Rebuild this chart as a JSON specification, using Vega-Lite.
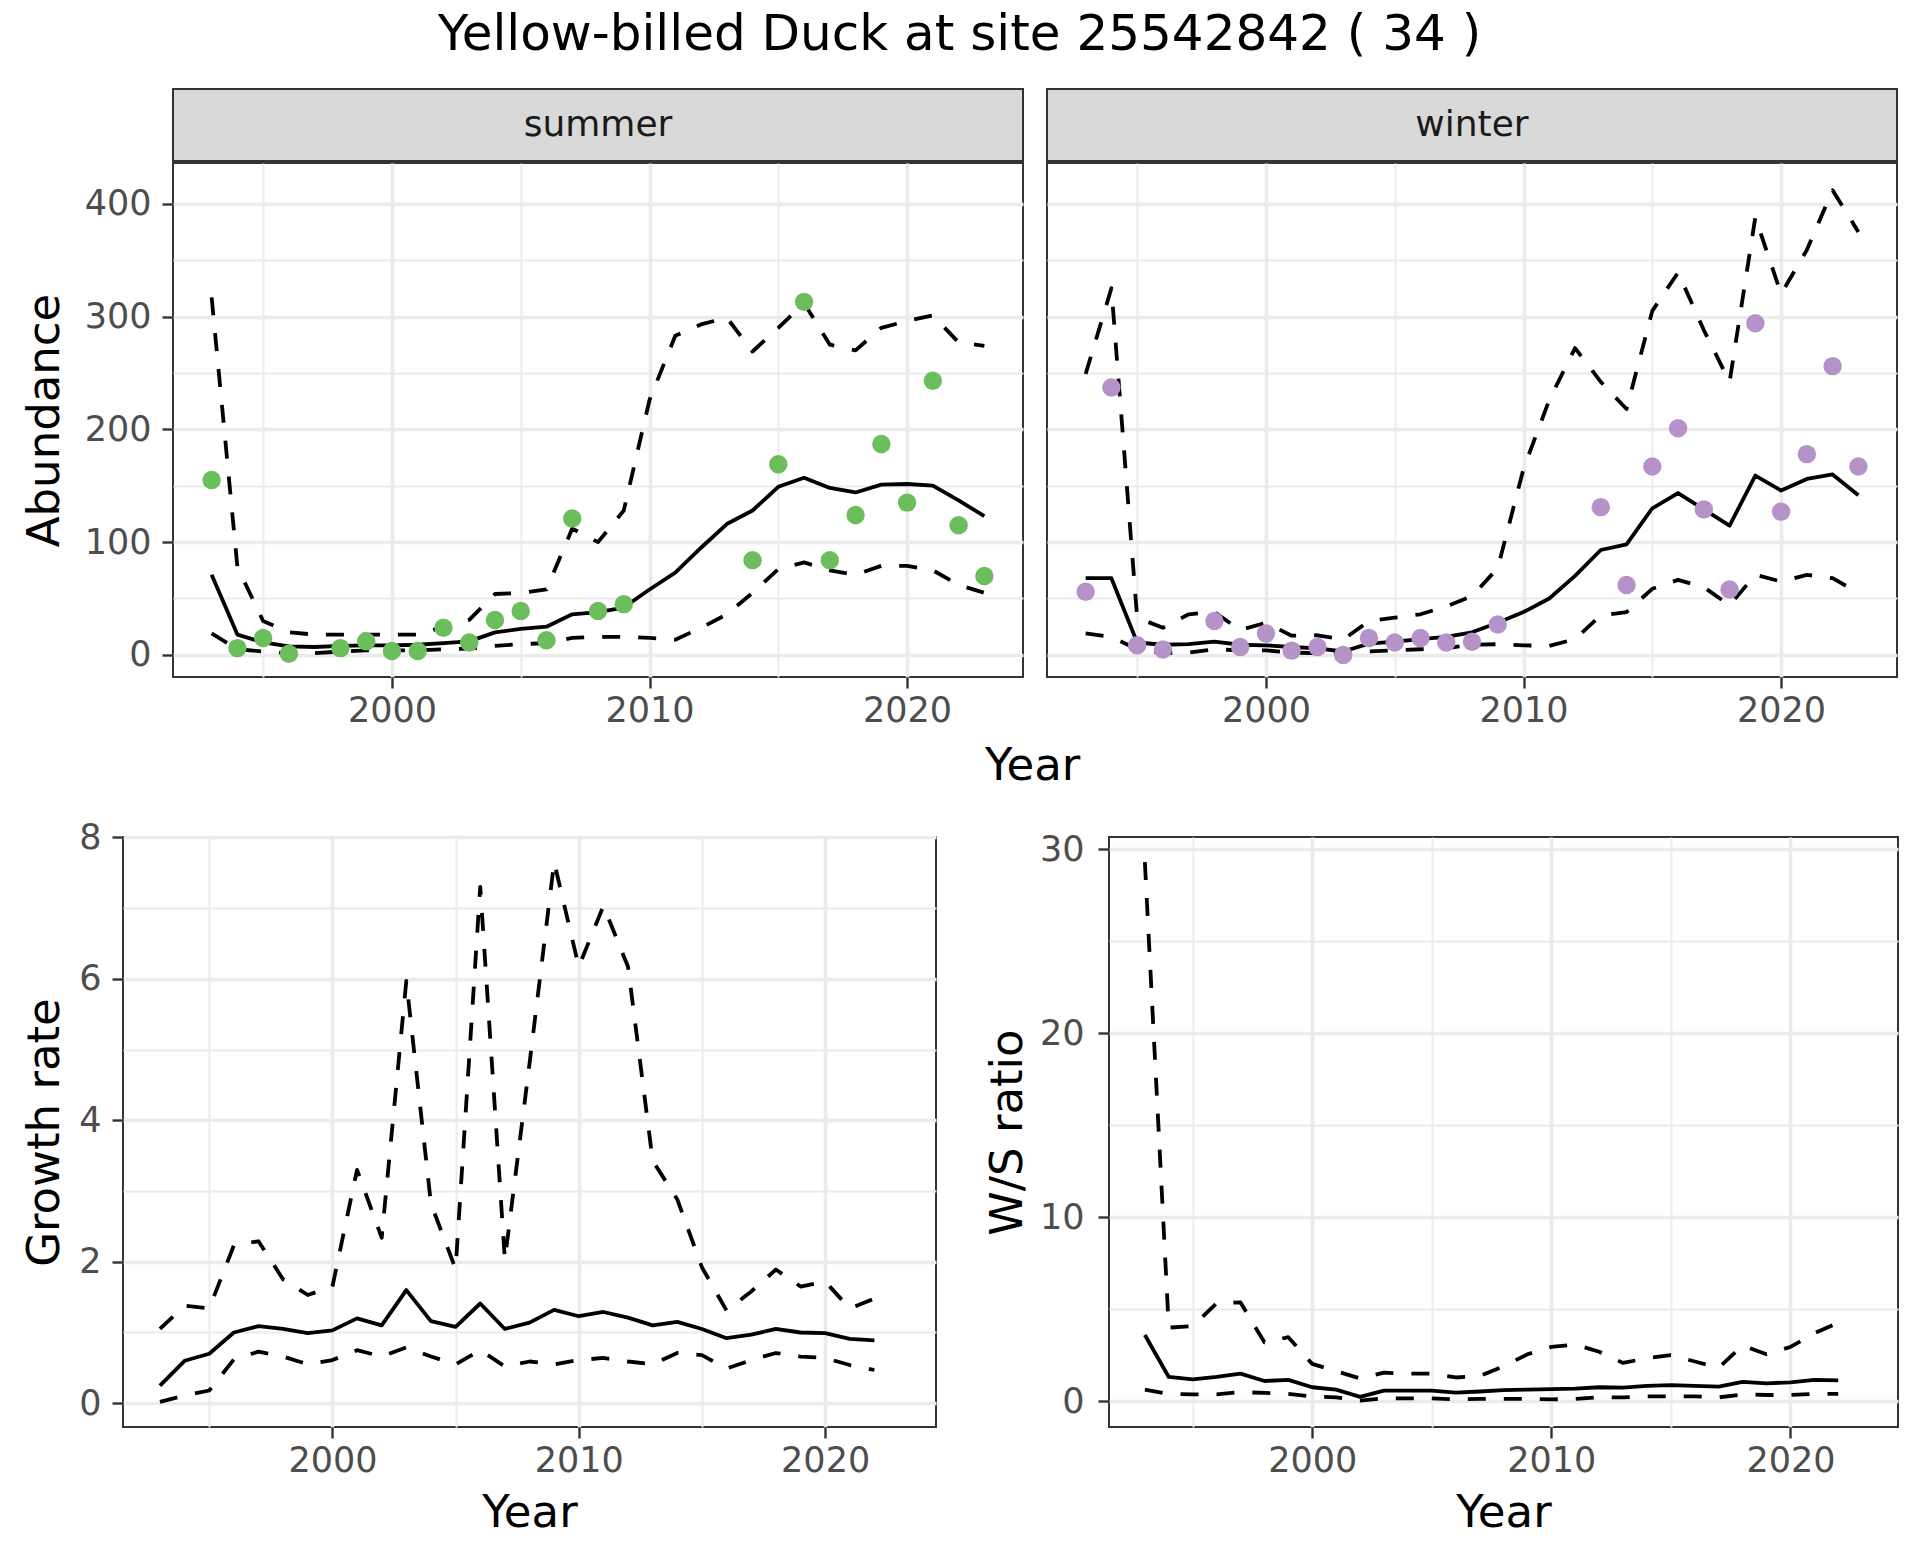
{
  "$schema": "https://vega.github.io/schema/vega-lite/v6.json",
  "background": "white",
  "padding": {"left": 20, "top": 10, "right": 10, "bottom": 10},
  "title": {"text": "Yellow-billed Duck at site 25542842 ( 34 )", "fontSize": 50, "font": "DejaVu Sans", "fontWeight": "normal", "color": "#000000", "anchor": "middle", "offset": 28},
  "datasets": {
    "summer": [
      {"year": 1993, "obs": 155, "mean": 71, "lo": 19, "hi": 317},
      {"year": 1994, "obs": 6, "mean": 18, "lo": 5, "hi": 78},
      {"year": 1995, "obs": 15, "mean": 11, "lo": 3, "hi": 30},
      {"year": 1996, "obs": 1, "mean": 7.5, "lo": 1.5, "hi": 20},
      {"year": 1997, "obs": null, "mean": 7, "lo": 1.5, "hi": 18},
      {"year": 1998, "obs": 6, "mean": 8, "lo": 3, "hi": 18},
      {"year": 1999, "obs": 12, "mean": 8.5, "lo": 4, "hi": 18},
      {"year": 2000, "obs": 3.5, "mean": 8.5, "lo": 4, "hi": 18},
      {"year": 2001, "obs": 3.5, "mean": 9, "lo": 4, "hi": 18},
      {"year": 2002, "obs": 24, "mean": 10.5, "lo": 5, "hi": 25},
      {"year": 2003, "obs": 11, "mean": 12, "lo": 5.5, "hi": 31},
      {"year": 2004, "obs": 31, "mean": 20, "lo": 8, "hi": 54},
      {"year": 2005, "obs": 39, "mean": 23, "lo": 9.5, "hi": 55},
      {"year": 2006, "obs": 13, "mean": 25, "lo": 10.5, "hi": 58},
      {"year": 2007, "obs": 121, "mean": 36, "lo": 15, "hi": 112},
      {"year": 2008, "obs": 39, "mean": 38, "lo": 16, "hi": 100},
      {"year": 2009, "obs": 45, "mean": 42, "lo": 16, "hi": 128},
      {"year": 2010, "obs": null, "mean": 58, "lo": 15, "hi": 226},
      {"year": 2011, "obs": null, "mean": 73, "lo": 13.5, "hi": 283},
      {"year": 2012, "obs": null, "mean": 95, "lo": 24, "hi": 293},
      {"year": 2013, "obs": null, "mean": 116, "lo": 36, "hi": 299},
      {"year": 2014, "obs": 84, "mean": 128, "lo": 55, "hi": 269},
      {"year": 2015, "obs": 169, "mean": 149, "lo": 76, "hi": 290},
      {"year": 2016, "obs": 313, "mean": 157, "lo": 82, "hi": 312},
      {"year": 2017, "obs": 84, "mean": 148, "lo": 75, "hi": 275},
      {"year": 2018, "obs": 124, "mean": 144, "lo": 71, "hi": 270},
      {"year": 2019, "obs": 187, "mean": 151, "lo": 79, "hi": 290},
      {"year": 2020, "obs": 135, "mean": 151.5, "lo": 79, "hi": 296},
      {"year": 2021, "obs": 243, "mean": 150, "lo": 75, "hi": 301},
      {"year": 2022, "obs": 115, "mean": 137, "lo": 62, "hi": 277},
      {"year": 2023, "obs": 70, "mean": 123, "lo": 55, "hi": 274}
    ],
    "winter": [
      {"year": 1993, "obs": 56, "mean": 68, "lo": 19, "hi": 249},
      {"year": 1994, "obs": 237, "mean": 68, "lo": 16, "hi": 325},
      {"year": 1995, "obs": 8.5, "mean": 11, "lo": 5, "hi": 33},
      {"year": 1996, "obs": 4.7, "mean": 9, "lo": 1.6, "hi": 24},
      {"year": 1997, "obs": null, "mean": 9.5, "lo": 2, "hi": 36},
      {"year": 1998, "obs": 30, "mean": 11.7, "lo": 5, "hi": 38},
      {"year": 1999, "obs": 7, "mean": 9, "lo": 4, "hi": 22},
      {"year": 2000, "obs": 19, "mean": 8.5, "lo": 4, "hi": 28.5},
      {"year": 2001, "obs": 3.8, "mean": 7, "lo": 2, "hi": 17},
      {"year": 2002, "obs": 7, "mean": 5.7, "lo": 1.6, "hi": 17.4},
      {"year": 2003, "obs": 0, "mean": 3, "lo": 0.6, "hi": 13.6},
      {"year": 2004, "obs": 15, "mean": 10, "lo": 3, "hi": 30},
      {"year": 2005, "obs": 11, "mean": 11.7, "lo": 4, "hi": 33},
      {"year": 2006, "obs": 15, "mean": 14, "lo": 5, "hi": 36},
      {"year": 2007, "obs": 11, "mean": 16, "lo": 6, "hi": 43},
      {"year": 2008, "obs": 11.7, "mean": 20, "lo": 9, "hi": 52},
      {"year": 2009, "obs": 27, "mean": 28.5, "lo": 9.5, "hi": 77},
      {"year": 2010, "obs": null, "mean": 38, "lo": 8.5, "hi": 165},
      {"year": 2011, "obs": null, "mean": 50, "lo": 8, "hi": 226},
      {"year": 2012, "obs": null, "mean": 70, "lo": 14, "hi": 272},
      {"year": 2013, "obs": 131, "mean": 93, "lo": 35, "hi": 242},
      {"year": 2014, "obs": 62, "mean": 98, "lo": 38, "hi": 218},
      {"year": 2015, "obs": 167, "mean": 130, "lo": 58.6, "hi": 305},
      {"year": 2016, "obs": 201, "mean": 143.5, "lo": 66.5, "hi": 339},
      {"year": 2017, "obs": 129, "mean": 129, "lo": 60, "hi": 288},
      {"year": 2018, "obs": 58, "mean": 114.6, "lo": 44, "hi": 242},
      {"year": 2019, "obs": 294, "mean": 159, "lo": 71, "hi": 388},
      {"year": 2020, "obs": 127, "mean": 145.7, "lo": 65, "hi": 320},
      {"year": 2021, "obs": 178, "mean": 156, "lo": 71, "hi": 359},
      {"year": 2022, "obs": 256, "mean": 160, "lo": 68, "hi": 412},
      {"year": 2023, "obs": 167, "mean": 141.6, "lo": 55, "hi": 375}
    ],
    "growth": [
      {"year": 1993, "mean": 0.25, "lo": 0.02, "hi": 1.05},
      {"year": 1994, "mean": 0.6, "lo": 0.11, "hi": 1.38},
      {"year": 1995, "mean": 0.7, "lo": 0.18, "hi": 1.34},
      {"year": 1996, "mean": 1.0, "lo": 0.62, "hi": 2.23},
      {"year": 1997, "mean": 1.09, "lo": 0.73, "hi": 2.29},
      {"year": 1998, "mean": 1.05, "lo": 0.66, "hi": 1.75},
      {"year": 1999, "mean": 0.99, "lo": 0.55, "hi": 1.53},
      {"year": 2000, "mean": 1.03, "lo": 0.61, "hi": 1.65},
      {"year": 2001, "mean": 1.2, "lo": 0.75, "hi": 3.3},
      {"year": 2002, "mean": 1.1, "lo": 0.66, "hi": 2.34},
      {"year": 2003, "mean": 1.6, "lo": 0.79, "hi": 5.97},
      {"year": 2004, "mean": 1.16, "lo": 0.66, "hi": 2.82},
      {"year": 2005, "mean": 1.08, "lo": 0.55, "hi": 1.9},
      {"year": 2006, "mean": 1.41, "lo": 0.75, "hi": 7.3},
      {"year": 2007, "mean": 1.05, "lo": 0.52, "hi": 2.03},
      {"year": 2008, "mean": 1.14, "lo": 0.59, "hi": 4.8},
      {"year": 2009, "mean": 1.32, "lo": 0.55, "hi": 7.65},
      {"year": 2010, "mean": 1.23, "lo": 0.61, "hi": 6.17},
      {"year": 2011, "mean": 1.29, "lo": 0.64, "hi": 7.03},
      {"year": 2012, "mean": 1.21, "lo": 0.59, "hi": 6.17},
      {"year": 2013, "mean": 1.1, "lo": 0.55, "hi": 3.43},
      {"year": 2014, "mean": 1.15, "lo": 0.71, "hi": 2.88},
      {"year": 2015, "mean": 1.05, "lo": 0.68, "hi": 1.92},
      {"year": 2016, "mean": 0.92, "lo": 0.49, "hi": 1.31},
      {"year": 2017, "mean": 0.97, "lo": 0.61, "hi": 1.58},
      {"year": 2018, "mean": 1.05, "lo": 0.71, "hi": 1.89},
      {"year": 2019, "mean": 1.0, "lo": 0.66, "hi": 1.65},
      {"year": 2020, "mean": 0.99, "lo": 0.64, "hi": 1.72},
      {"year": 2021, "mean": 0.91, "lo": 0.54, "hi": 1.34},
      {"year": 2022, "mean": 0.89, "lo": 0.47, "hi": 1.48}
    ],
    "ws": [
      {"year": 1993, "mean": 3.6, "lo": 0.63, "hi": 29.3},
      {"year": 1994, "mean": 1.32, "lo": 0.4, "hi": 4.0},
      {"year": 1995, "mean": 1.19, "lo": 0.37, "hi": 4.08},
      {"year": 1996, "mean": 1.32, "lo": 0.37, "hi": 5.32},
      {"year": 1997, "mean": 1.5, "lo": 0.5, "hi": 5.37},
      {"year": 1998, "mean": 1.1, "lo": 0.45, "hi": 3.2},
      {"year": 1999, "mean": 1.16, "lo": 0.4, "hi": 3.48},
      {"year": 2000, "mean": 0.76, "lo": 0.26, "hi": 2.03},
      {"year": 2001, "mean": 0.63, "lo": 0.21, "hi": 1.63},
      {"year": 2002, "mean": 0.24, "lo": 0.03, "hi": 1.24},
      {"year": 2003, "mean": 0.58, "lo": 0.16, "hi": 1.55},
      {"year": 2004, "mean": 0.58, "lo": 0.16, "hi": 1.5},
      {"year": 2005, "mean": 0.58, "lo": 0.16, "hi": 1.5},
      {"year": 2006, "mean": 0.47, "lo": 0.1, "hi": 1.29},
      {"year": 2007, "mean": 0.53, "lo": 0.13, "hi": 1.37},
      {"year": 2008, "mean": 0.6, "lo": 0.13, "hi": 1.9},
      {"year": 2009, "mean": 0.63, "lo": 0.13, "hi": 2.55},
      {"year": 2010, "mean": 0.66, "lo": 0.1, "hi": 2.95},
      {"year": 2011, "mean": 0.68, "lo": 0.13, "hi": 3.08},
      {"year": 2012, "mean": 0.76, "lo": 0.21, "hi": 2.69},
      {"year": 2013, "mean": 0.74, "lo": 0.21, "hi": 2.08},
      {"year": 2014, "mean": 0.84, "lo": 0.26, "hi": 2.34},
      {"year": 2015, "mean": 0.87, "lo": 0.26, "hi": 2.5},
      {"year": 2016, "mean": 0.84, "lo": 0.26, "hi": 2.16},
      {"year": 2017, "mean": 0.79, "lo": 0.21, "hi": 1.82},
      {"year": 2018, "mean": 1.05, "lo": 0.37, "hi": 3.03},
      {"year": 2019, "mean": 0.97, "lo": 0.34, "hi": 2.55},
      {"year": 2020, "mean": 1.03, "lo": 0.34, "hi": 2.95},
      {"year": 2021, "mean": 1.16, "lo": 0.4, "hi": 3.69},
      {"year": 2022, "mean": 1.13, "lo": 0.4, "hi": 4.27}
    ]
  },
  "spacing": 30,
  "vconcat": [
    {
      "spacing": 0,
      "hconcat": [
        {"width": 1, "height": 1, "view": {"stroke": null}, "data": {"values": []}, "mark": "point"},
        {
          "spacing": 22,
          "title": {"text": "Year", "orient": "bottom", "anchor": "middle", "fontSize": 45, "font": "DejaVu Sans", "fontWeight": "normal", "color": "#000000", "offset": 14, "dx": 73},
          "hconcat": [
            {
              "spacing": 0,
              "vconcat": [
                {"width": 850, "height": 72, "view": {"fill": "#D9D9D9", "stroke": "#333333", "strokeWidth": 2},
                 "data": {"values": [{"label": "summer"}]},
                 "mark": {"type": "text", "fontSize": 36, "color": "#1A1A1A", "font": "DejaVu Sans", "baseline": "middle", "align": "center"},
                 "encoding": {"text": {"field": "label", "type": "nominal"}}},
                {"width": 850, "height": 514,
                 "data": {"name": "summer"},
                 "encoding": {"x": {"field": "year", "type": "quantitative", "scale": {"domain": [1991.5, 2024.5], "nice": false, "zero": false},
                   "axis": {"values": [1995, 2000, 2005, 2010, 2015, 2020], "format": "d", "title": null, "labelExpr": "datum.value % 10 === 0 ? datum.label : ''",
                     "gridWidth": {"condition": {"test": "datum.value % 10 === 0", "value": 3.6}, "value": 1.9},
                     "tickOpacity": {"condition": {"test": "datum.value % 10 === 0", "value": 1}, "value": 0}}}},
                 "layer": [
                   {"transform": [{"fold": ["lo", "hi"], "as": ["bound", "val"]}],
                    "mark": {"type": "line", "color": "#000000", "strokeWidth": 3.8, "strokeDash": [18, 18], "strokeJoin": "round"},
                    "encoding": {"y": {"field": "val", "type": "quantitative", "scale": {"domain": [-19.6, 436.1], "nice": false, "zero": false},
                      "axis": {"values": [0, 50, 100, 150, 200, 250, 300, 350, 400], "format": "d", "title": "Abundance", "titlePadding": 17, "labelExpr": "datum.value % 100 === 0 ? datum.label : ''",
                        "gridWidth": {"condition": {"test": "datum.value % 100 === 0", "value": 3.6}, "value": 1.9},
                        "tickOpacity": {"condition": {"test": "datum.value % 100 === 0", "value": 1}, "value": 0}}},
                      "detail": {"field": "bound", "type": "nominal"}}},
                   {"mark": {"type": "line", "color": "#000000", "strokeWidth": 3.8, "strokeJoin": "round"},
                    "encoding": {"y": {"field": "mean", "type": "quantitative"}}},
                   {"transform": [{"filter": "isValid(datum.obs)"}],
                    "mark": {"type": "circle", "size": 340, "color": "#6CBD5C", "opacity": 1},
                    "encoding": {"y": {"field": "obs", "type": "quantitative"}}}
                 ]}
              ]
            },
            {
              "spacing": 0,
              "vconcat": [
                {"width": 850, "height": 72, "view": {"fill": "#D9D9D9", "stroke": "#333333", "strokeWidth": 2},
                 "data": {"values": [{"label": "winter"}]},
                 "mark": {"type": "text", "fontSize": 36, "color": "#1A1A1A", "font": "DejaVu Sans", "baseline": "middle", "align": "center"},
                 "encoding": {"text": {"field": "label", "type": "nominal"}}},
                {"width": 850, "height": 514,
                 "data": {"name": "winter"},
                 "encoding": {"x": {"field": "year", "type": "quantitative", "scale": {"domain": [1991.5, 2024.5], "nice": false, "zero": false},
                   "axis": {"values": [1995, 2000, 2005, 2010, 2015, 2020], "format": "d", "title": null, "labelExpr": "datum.value % 10 === 0 ? datum.label : ''",
                     "gridWidth": {"condition": {"test": "datum.value % 10 === 0", "value": 3.6}, "value": 1.9},
                     "tickOpacity": {"condition": {"test": "datum.value % 10 === 0", "value": 1}, "value": 0}}}},
                 "layer": [
                   {"transform": [{"fold": ["lo", "hi"], "as": ["bound", "val"]}],
                    "mark": {"type": "line", "color": "#000000", "strokeWidth": 3.8, "strokeDash": [18, 18], "strokeJoin": "round"},
                    "encoding": {"y": {"field": "val", "type": "quantitative", "scale": {"domain": [-19.6, 436.1], "nice": false, "zero": false},
                      "axis": {"values": [0, 50, 100, 150, 200, 250, 300, 350, 400], "title": null, "labels": false, "ticks": false,
                        "gridWidth": {"condition": {"test": "datum.value % 100 === 0", "value": 3.6}, "value": 1.9}}},
                      "detail": {"field": "bound", "type": "nominal"}}},
                   {"mark": {"type": "line", "color": "#000000", "strokeWidth": 3.8, "strokeJoin": "round"},
                    "encoding": {"y": {"field": "mean", "type": "quantitative"}}},
                   {"transform": [{"filter": "isValid(datum.obs)"}],
                    "mark": {"type": "circle", "size": 340, "color": "#B592C7", "opacity": 1},
                    "encoding": {"y": {"field": "obs", "type": "quantitative"}}}
                 ]}
              ]
            }
          ]
        }
      ]
    },
    {
      "spacing": 0,
      "hconcat": [
        {"width": 1, "height": 1, "view": {"stroke": null}, "data": {"values": []}, "mark": "point"},
        {
          "spacing": 47,
          "hconcat": [
            {"width": 813, "height": 590,
             "data": {"name": "growth"},
             "encoding": {"x": {"field": "year", "type": "quantitative", "scale": {"domain": [1991.5, 2024.5], "nice": false, "zero": false},
               "axis": {"values": [1995, 2000, 2005, 2010, 2015, 2020], "format": "d", "title": "Year", "labelExpr": "datum.value % 10 === 0 ? datum.label : ''",
                 "gridWidth": {"condition": {"test": "datum.value % 10 === 0", "value": 3.6}, "value": 1.9},
                 "tickOpacity": {"condition": {"test": "datum.value % 10 === 0", "value": 1}, "value": 0}}}},
             "layer": [
               {"transform": [{"fold": ["lo", "hi"], "as": ["bound", "val"]}],
                "mark": {"type": "line", "color": "#000000", "strokeWidth": 3.8, "strokeDash": [18, 18], "strokeJoin": "round"},
                "encoding": {"y": {"field": "val", "type": "quantitative", "scale": {"domain": [-0.336, 8.005], "nice": false, "zero": false},
                  "axis": {"values": [0, 1, 2, 3, 4, 5, 6, 7, 8], "format": "d", "title": "Growth rate", "titlePadding": 11.5, "labelExpr": "datum.value % 2 === 0 ? datum.label : ''",
                    "gridWidth": {"condition": {"test": "datum.value % 2 === 0", "value": 3.6}, "value": 1.9},
                    "tickOpacity": {"condition": {"test": "datum.value % 2 === 0", "value": 1}, "value": 0}}},
                  "detail": {"field": "bound", "type": "nominal"}}},
               {"mark": {"type": "line", "color": "#000000", "strokeWidth": 3.8, "strokeJoin": "round"},
                "encoding": {"y": {"field": "mean", "type": "quantitative"}}}
             ]},
            {"width": 789, "height": 590,
             "data": {"name": "ws"},
             "encoding": {"x": {"field": "year", "type": "quantitative", "scale": {"domain": [1991.5, 2024.5], "nice": false, "zero": false},
               "axis": {"values": [1995, 2000, 2005, 2010, 2015, 2020], "format": "d", "title": "Year", "labelExpr": "datum.value % 10 === 0 ? datum.label : ''",
                 "gridWidth": {"condition": {"test": "datum.value % 10 === 0", "value": 3.6}, "value": 1.9},
                 "tickOpacity": {"condition": {"test": "datum.value % 10 === 0", "value": 1}, "value": 0}}}},
             "layer": [
               {"transform": [{"fold": ["lo", "hi"], "as": ["bound", "val"]}],
                "mark": {"type": "line", "color": "#000000", "strokeWidth": 3.8, "strokeDash": [18, 18], "strokeJoin": "round"},
                "encoding": {"y": {"field": "val", "type": "quantitative", "scale": {"domain": [-1.4, 30.66], "nice": false, "zero": false},
                  "axis": {"values": [0, 5, 10, 15, 20, 25, 30], "format": "d", "title": "W/S ratio", "titlePadding": 9, "labelPadding": 14, "labelExpr": "datum.value % 10 === 0 ? datum.label : ''",
                    "gridWidth": {"condition": {"test": "datum.value % 10 === 0", "value": 3.6}, "value": 1.9},
                    "tickOpacity": {"condition": {"test": "datum.value % 10 === 0", "value": 1}, "value": 0}}},
                  "detail": {"field": "bound", "type": "nominal"}}},
               {"mark": {"type": "line", "color": "#000000", "strokeWidth": 3.8, "strokeJoin": "round"},
                "encoding": {"y": {"field": "mean", "type": "quantitative"}}}
             ]}
          ]
        }
      ]
    }
  ],
  "config": {
    "font": "DejaVu Sans",
    "view": {"stroke": "#333333", "strokeWidth": 2},
    "axis": {"domain": false, "gridColor": "#EBEBEB", "tickColor": "#333333", "tickWidth": 2.4, "tickSize": 11,
      "labelFont": "DejaVu Sans", "labelFontSize": 35, "labelColor": "#4D4D4D",
      "titleFont": "DejaVu Sans", "titleFontSize": 45, "titleFontWeight": "normal", "titleColor": "#000000",
      "labelFlush": false, "labelOverlap": false},
    "axisX": {"labelPadding": 5.5, "titlePadding": 12},
    "axisY": {"labelPadding": 11},
    "title": {"font": "DejaVu Sans", "fontWeight": "normal", "color": "#000000"}
  }
}
